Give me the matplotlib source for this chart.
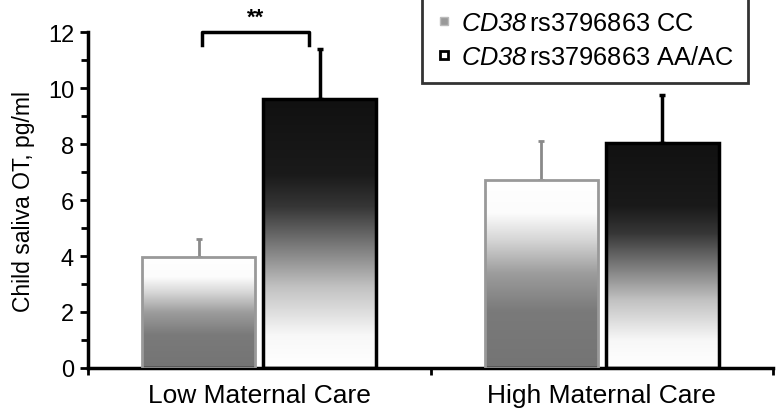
import numpy as np
import matplotlib
matplotlib.use("Agg")
import matplotlib.pyplot as plt
from matplotlib.colors import LinearSegmentedColormap
from matplotlib.patches import Rectangle
from matplotlib.lines import Line2D

plt.rcParams['font.family'] = ['Liberation Sans', 'DejaVu Sans']
plt.rcParams['mathtext.fontset'] = 'custom'
plt.rcParams['mathtext.it'] = 'Liberation Sans:italic'
plt.rcParams['mathtext.rm'] = 'Liberation Sans:italic'

# data
groups = ['Low Maternal Care', 'High Maternal Care']
cc_mean = [3.95, 6.72]
cc_err = [0.65, 1.38]
aa_mean = [9.6, 8.03]
aa_err = [1.78, 1.72]
series_labels = [r'$\mathrm{CD38}\,$rs3796863 CC', r'$\mathrm{CD38}\,$rs3796863 AA/AC']

# gradients (bottom -> top)
cmap_cc = LinearSegmentedColormap.from_list('cc', [(0, '#747474'), (0.3, '#7a7a7a'), (0.5, '#9c9c9c'),
                                                   (0.68, '#d6d6d6'), (0.82, '#fcfcfc'), (1, '#ffffff')])
cmap_aa = LinearSegmentedColormap.from_list('aa', [(0, '#ffffff'), (0.12, '#f8f8f8'), (0.3, '#c2c2c2'),
                                                   (0.45, '#7c7c7c'), (0.6, '#363636'), (0.72, '#1a1a1a'),
                                                   (1, '#111111')])

fig = plt.figure(figsize=(7.77, 4.10), dpi=100)
ax = fig.add_axes([88/777, 41/410, 685/777, 336/410])

x = np.arange(len(groups))
w = 0.33
off = 0.177

def grad_bar(ax, xc, h, cmap, edge, lw):
    grad = np.linspace(0, 1, 256).reshape(-1, 1)
    im = ax.imshow(grad, cmap=cmap, origin='lower', aspect='auto',
                   extent=(xc - w/2, xc + w/2, 0, h), zorder=2, interpolation='bicubic')
    rect = Rectangle((xc - w/2, 0), w, h, facecolor='none', edgecolor=edge, lw=lw, zorder=3)
    ax.add_patch(rect)
    im.set_clip_path(rect)

for i in range(len(groups)):
    grad_bar(ax, x[i] - off, cc_mean[i], cmap_cc, '#999999', 2)
    grad_bar(ax, x[i] + off, aa_mean[i], cmap_aa, 'black', 2.5)

ax.errorbar(x - off, cc_mean, yerr=[np.zeros(2), cc_err], fmt='none', ecolor='#8a8a8a',
            elinewidth=2, capsize=2, capthick=2, zorder=1)
ax.errorbar(x + off, aa_mean, yerr=[np.zeros(2), aa_err], fmt='none', ecolor='black',
            elinewidth=2.5, capsize=2, capthick=2.5, zorder=1)

# significance bracket
ax.plot([-0.167, -0.167, 0.146, 0.146], [11.55, 12.0, 12.0, 11.55], color='black', lw=2.5,
        clip_on=False, solid_joinstyle='round')
ax.text(-0.01, 12.15, '**', ha='center', va='bottom', fontsize=16, fontweight='bold')

ax.set_xlim(-0.5, 1.5)
ax.set_ylim(0, 12)
ax.set_yticks(np.arange(0, 13, 2))
ax.set_yticks(np.arange(1, 12, 2), minor=True)
ax.set_xticks([-0.5, 0.5, 1.5])
ax.set_xticklabels([])
for i, g in enumerate(groups):
    ax.text(x[i], -1.2, g, ha='center', va='baseline', fontsize=19)

for s in ['top', 'right']:
    ax.spines[s].set_visible(False)
for s in ['left', 'bottom']:
    ax.spines[s].set_linewidth(2.5)
ax.tick_params(axis='y', which='major', length=6, width=2, labelsize=17, pad=4)
ax.tick_params(axis='y', which='minor', length=5, width=2)
ax.tick_params(axis='x', length=5, width=2)
ax.set_ylabel('Child saliva OT, pg/ml', fontsize=16.5, labelpad=9)

handles = [Line2D([], [], ls='none', marker='s', markersize=6, markerfacecolor='#999999',
                  markeredgecolor='#bbbbbb', markeredgewidth=1),
           Line2D([], [], ls='none', marker='s', markersize=6, markerfacecolor='white',
                  markeredgecolor='black', markeredgewidth=2)]
leg = fig.legend(handles, series_labels, loc='upper left', bbox_to_anchor=(422/777, 1.005),
                 fontsize=18.3, frameon=True, fancybox=False, edgecolor='black',
                 handlelength=0.6, handletextpad=0.4, borderpad=0.55, labelspacing=0.4,
                 borderaxespad=0)
leg.get_frame().set_linewidth(2)

fig.savefig('out.png', dpi=100)
